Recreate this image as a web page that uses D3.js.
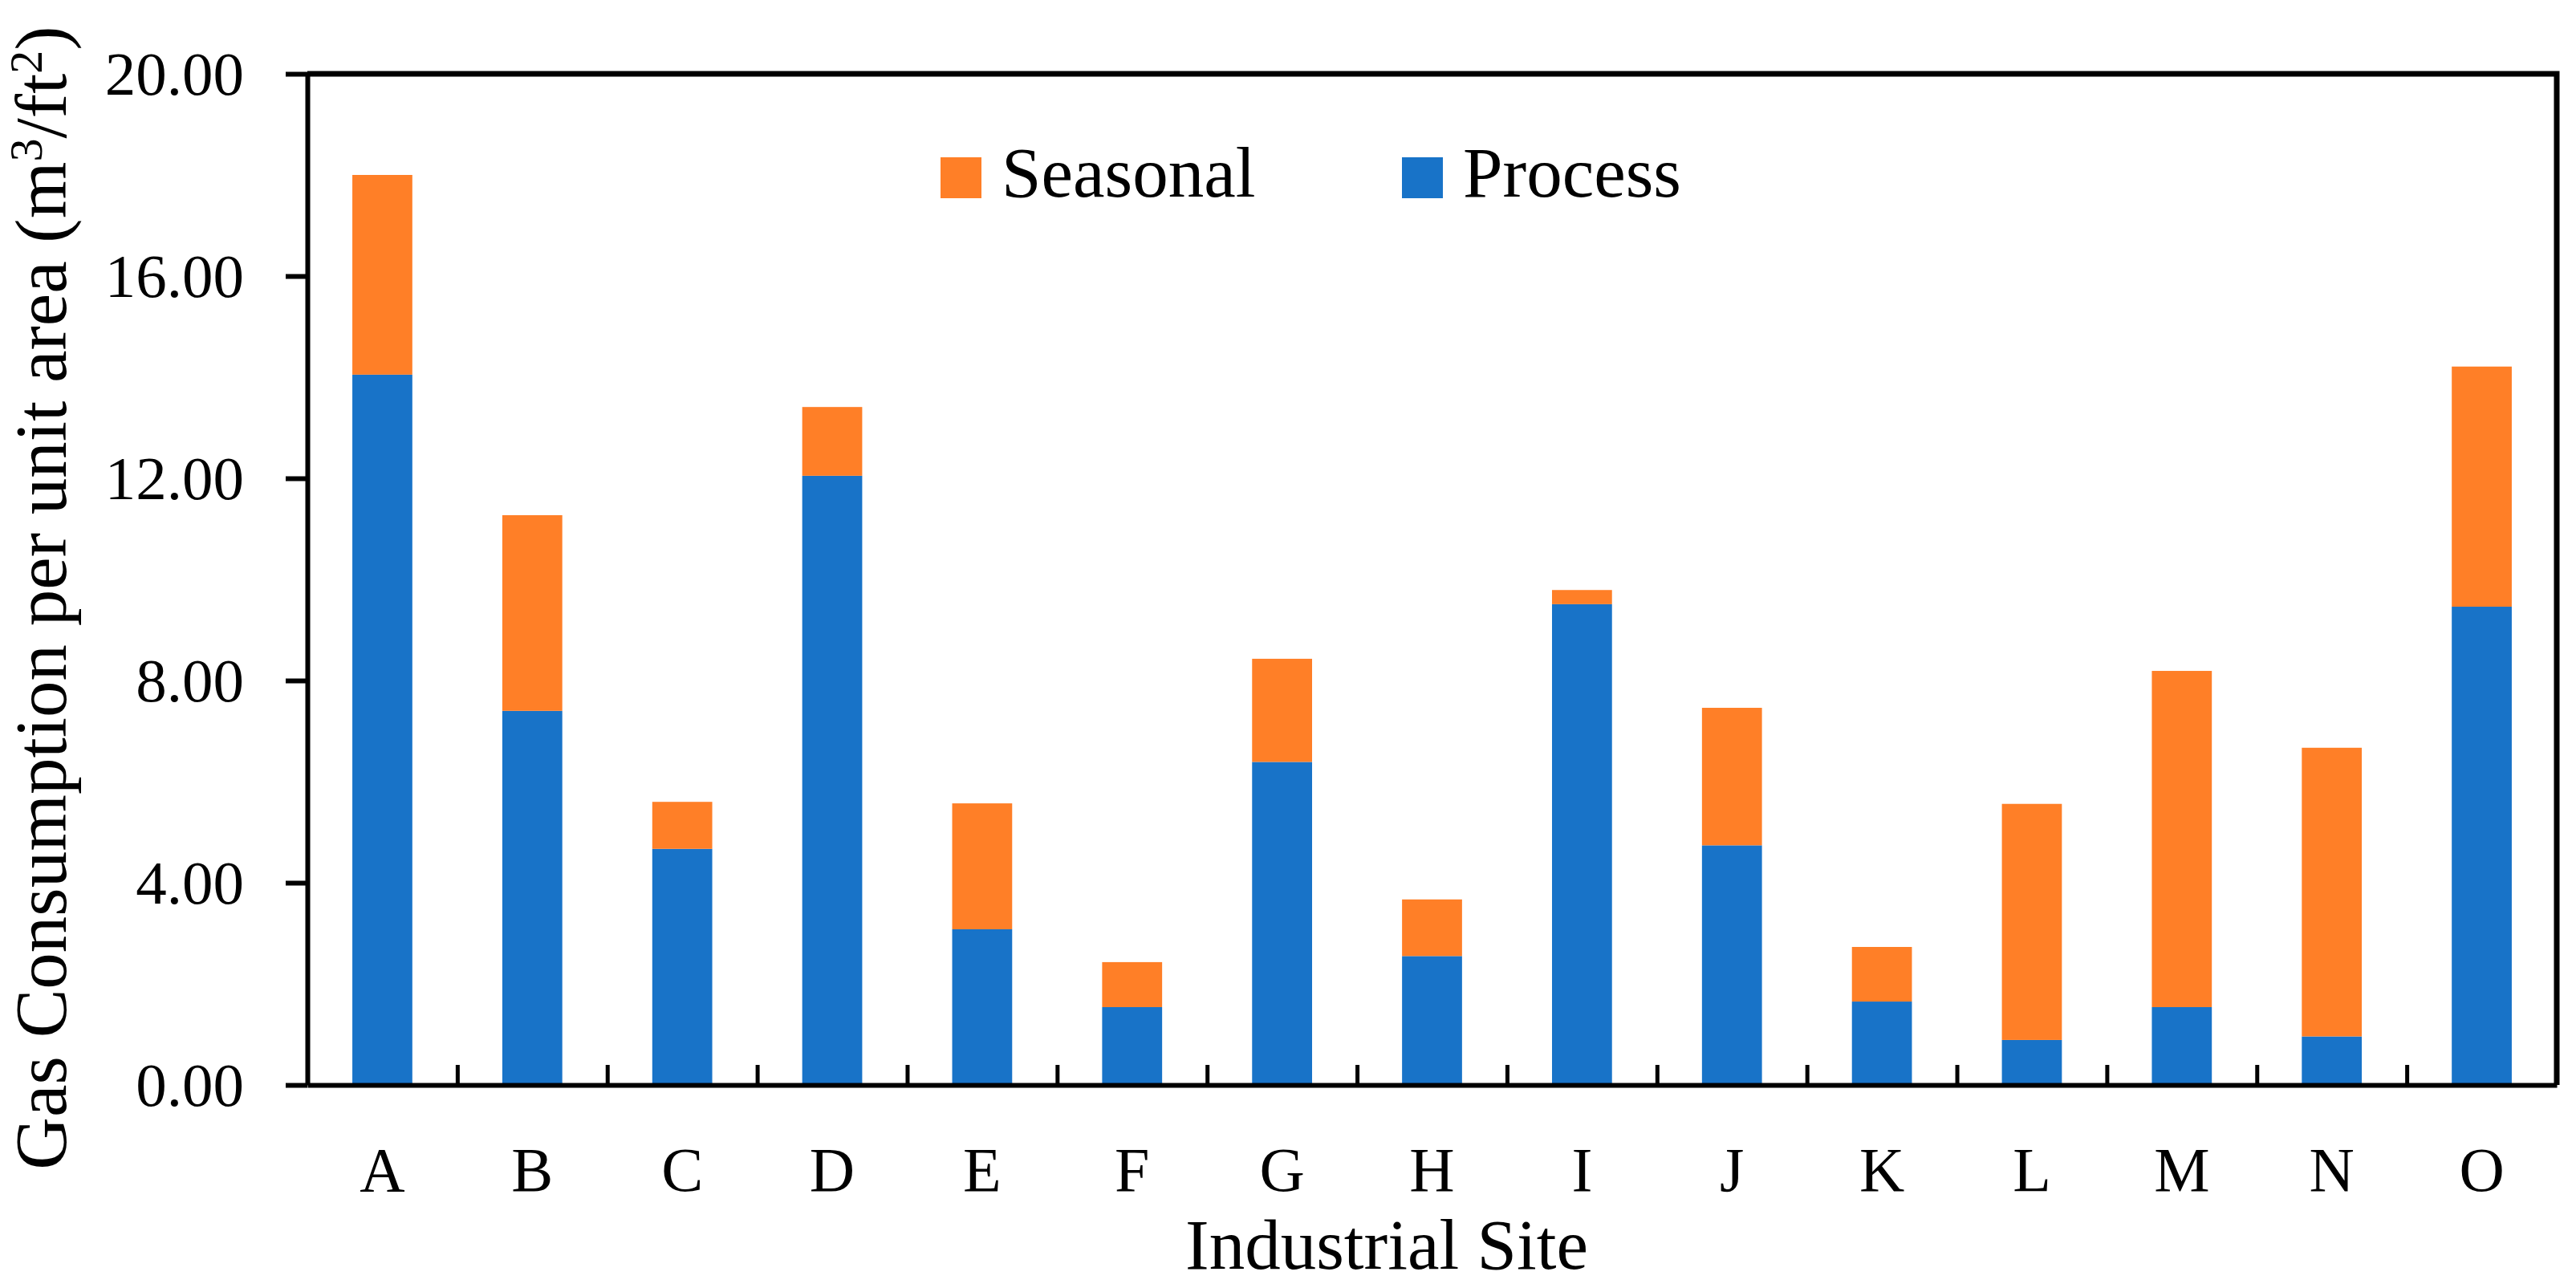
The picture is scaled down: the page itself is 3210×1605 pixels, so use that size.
<!DOCTYPE html>
<html lang="en">
<head>
    <meta charset="UTF-8">
    <title>Gas Consumption per Unit Area</title>
    <script src="https://d3js.org/d3.v7.min.js"></script>
    <style>
        body { margin: 0; background: #fff; }
        svg { display: block; font-family: "Liberation Serif", "DejaVu Serif", serif; }
        .axis path, .axis line { stroke: #000; }
        .axis text { fill: #000; }
    </style>
</head>
<body>
    <div id="chart"></div>
    <script>
        // data
        const sites = ["A", "B", "C", "D", "E", "F", "G", "H", "I", "J", "K", "L", "M", "N", "O"];
        const process = [14.05, 7.40, 4.67, 12.05, 3.08, 1.54, 6.39, 2.55, 9.51, 4.74, 1.65, 0.89, 1.54, 0.96, 9.46];
        const seasonal = [3.95, 3.87, 0.93, 1.36, 2.49, 0.89, 2.04, 1.12, 0.28, 2.72, 1.08, 4.67, 6.65, 5.71, 4.75];
        const yTicks = [0, 4, 8, 12, 16, 20];
        const seriesNames = ["Seasonal", "Process"];
        const colors = { Seasonal: "#ff7f27", Process: "#1873c8" };

        const W = 3210, H = 1605;
        const plotL = 383, plotR = 3186, plotT = 92, plotB = 1352;
        const serif = "'Liberation Serif', 'DejaVu Serif', serif";

        const svg = d3.select("#chart").append("svg")
            .attr("width", W)
            .attr("height", H);

        const x = d3.scaleBand().domain(sites).range([plotL, plotR]).padding(0);
        const xEdge = d3.scaleLinear().domain([0, sites.length]).range([plotL, plotR]);
        const y = d3.scaleLinear().domain([0, 20]).range([plotB, plotT]);
        const barW = x.bandwidth() * 0.4;

        const rows = sites.map((s, i) => ({ site: s, Process: process[i], Seasonal: seasonal[i] }));
        const stacked = d3.stack().keys(["Process", "Seasonal"])(rows);

        // bars
        svg.append("g").selectAll("g")
            .data(stacked)
            .enter().append("g")
            .attr("fill", d => colors[d.key])
            .selectAll("rect")
            .data(d => d)
            .enter().append("rect")
            .attr("x", d => x(d.data.site) + (x.bandwidth() - barW) / 2)
            .attr("width", barW)
            .attr("y", d => y(d[1]))
            .attr("height", d => y(d[0]) - y(d[1]));

        // frame (top and right)
        svg.append("path")
            .attr("d", `M${plotL},${plotT}H${plotR}V${plotB}`)
            .attr("fill", "none")
            .attr("stroke", "#000")
            .attr("stroke-width", 7);

        // y axis
        const yAxis = svg.append("g")
            .attr("class", "axis")
            .attr("transform", `translate(${plotL},0)`)
            .call(d3.axisLeft(y).tickValues(yTicks).tickFormat(d3.format(".2f")).tickSize(27).tickPadding(52).tickSizeOuter(0));
        yAxis.attr("font-family", serif);
        yAxis.select(".domain").attr("stroke-width", 6);
        yAxis.selectAll(".tick line").attr("stroke-width", 6);
        yAxis.selectAll(".tick text").attr("font-size", 77).attr("dy", "0.33em");

        // x axis: boundary ticks inside
        const xTicks = svg.append("g")
            .attr("class", "axis")
            .attr("transform", `translate(0,${plotB})`)
            .call(d3.axisBottom(xEdge).tickValues(d3.range(1, sites.length)).tickSize(-25).tickFormat("").tickSizeOuter(0));
        xTicks.select(".domain").attr("stroke-width", 6);
        xTicks.selectAll(".tick line").attr("stroke-width", 5);

        // x labels
        const xLabels = svg.append("g")
            .attr("class", "axis")
            .attr("transform", `translate(0,${plotB})`)
            .call(d3.axisBottom(x).tickSize(0).tickPadding(0));
        xLabels.attr("font-family", serif);
        xLabels.select(".domain").remove();
        xLabels.selectAll(".tick text").attr("font-size", 78).attr("dy", 0).attr("y", 132);

        // axis titles
        svg.append("text")
            .attr("x", 1728)
            .attr("y", 1581)
            .attr("text-anchor", "middle")
            .attr("font-size", 89)
            .text("Industrial Site");

        const yTitle = svg.append("text")
            .attr("transform", "translate(82,745) rotate(-90)")
            .attr("text-anchor", "middle")
            .attr("font-size", 91);
        yTitle.append("tspan").text("Gas Consumption per unit area (m");
        yTitle.append("tspan").attr("font-size", 58).attr("dy", -30).text("3");
        yTitle.append("tspan").attr("dy", 30).text("/ft");
        yTitle.append("tspan").attr("font-size", 58).attr("dy", -30).text("2");
        yTitle.append("tspan").attr("dy", 30).text(")");

        // legend
        const legendX = [1172, 1747];
        const legend = svg.append("g").selectAll("g")
            .data(seriesNames)
            .enter().append("g")
            .attr("transform", (d, i) => `translate(${legendX[i]},196)`);
        legend.append("rect")
            .attr("width", 51)
            .attr("height", 51)
            .attr("fill", d => colors[d]);
        legend.append("text")
            .attr("x", 76)
            .attr("y", 49)
            .attr("font-size", 89)
            .text(d => d);
    </script>
</body>
</html>
